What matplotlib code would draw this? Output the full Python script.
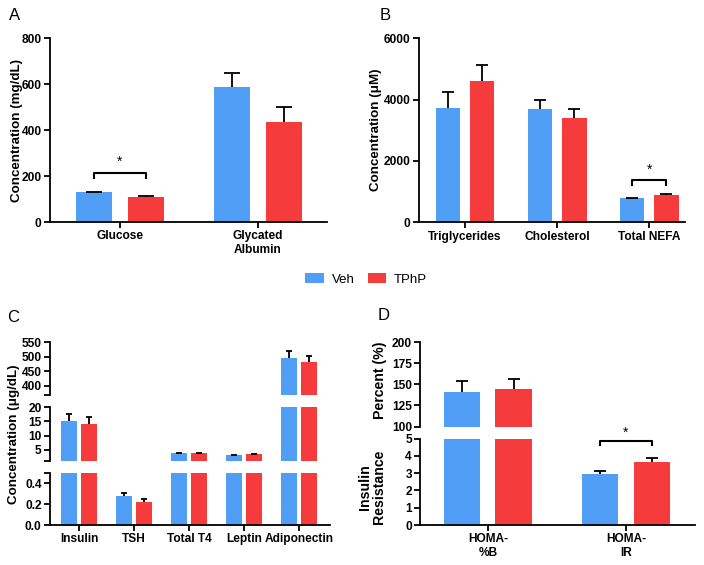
import matplotlib
matplotlib.use("Agg")
import matplotlib.pyplot as plt
from matplotlib.patches import Patch
import numpy as np

plt.rcParams["font.family"] = ["Liberation Sans", "DejaVu Sans"]
plt.rcParams["font.weight"] = "bold"

BLUE = "#519ef7"
RED = "#f63b3c"

# panel A
a_labels = ["Glucose", "Glycated\nAlbumin"]
a_veh = [129, 588]
a_veh_err = [3, 61]
a_tphp = [110, 437]
a_tphp_err = [3, 63]

# panel B
b_labels = ["Triglycerides", "Cholesterol", "Total NEFA"]
b_veh = [3740, 3705, 780]
b_veh_err = [500, 295, 15]
b_tphp = [4615, 3390, 890]
b_tphp_err = [500, 295, 20]

# panel C
c_labels = ["Insulin", "TSH", "Total T4", "Leptin", "Adiponectin"]
c_veh = [15.2, 0.275, 3.8, 3.1, 497]
c_veh_err = [2.4, 0.03, 0.15, 0.15, 24]
c_tphp = [14.0, 0.222, 3.75, 3.45, 482]
c_tphp_err = [2.7, 0.03, 0.15, 0.15, 22]

# panel D
d_labels = ["HOMA-\n%B", "HOMA-\nIR"]
d_veh = [140.7, 2.95]
d_veh_err = [13.2, 0.19]
d_tphp = [144.2, 3.64]
d_tphp_err = [12.8, 0.21]

W, H = 704, 565
fig = plt.figure(figsize=(W / 100, H / 100), dpi=100)


def box(x0, y0, x1, y1):  # pixel box -> figure fraction
    return [x0 / W, 1 - y1 / H, (x1 - x0) / W, (y1 - y0) / H]


def style(ax, bottom=True):
    ax.spines["top"].set_visible(False)
    ax.spines["right"].set_visible(False)
    ax.spines["left"].set_linewidth(1.3)
    ax.spines["bottom"].set_linewidth(1.3)
    ax.tick_params(direction="out", length=4, width=1.3, labelsize=8.6, pad=2)
    if not bottom:
        ax.spines["bottom"].set_visible(False)
        ax.tick_params(axis="x", bottom=False, labelbottom=False)


def upper_err(ax, x, y, err, cap):
    _, caps, _ = ax.errorbar(x, y, yerr=[np.zeros(len(y)), err], fmt="none",
                             ecolor="black", elinewidth=1.3, capsize=cap,
                             capthick=1.3)
    caps[0].set_visible(False)  # no cap at the bar top


def bars(ax, veh, veh_err, tphp, tphp_err, width, off, cap):
    x = np.arange(len(veh))
    ax.bar(x - off, veh, width, color=BLUE)
    ax.bar(x + off, tphp, width, color=RED)
    upper_err(ax, x - off, veh, veh_err, cap)
    upper_err(ax, x + off, tphp, tphp_err, cap)
    return x


def bracket(ax, i, off, y, leg, star_gap):
    x1, x2 = i - off, i + off
    ax.plot([x1, x1, x2, x2], [y - leg, y, y, y - leg], color="black", lw=1.5,
            clip_on=False)
    ax.text(i, y + star_gap, "*", ha="center", va="bottom", fontsize=10,
            fontweight="normal")


def ylabel(x, y, s, size=9.6):
    fig.text(x / W, 1 - y / H, s, rotation=90, ha="center", va="center",
             fontsize=size, fontweight="bold", linespacing=1.05)


def letter(x, y, s):
    fig.text(x / W, 1 - y / H, s, ha="left", va="center", fontsize=12,
             fontweight="normal")


# ---- A ----
ax = fig.add_axes(box(50, 38.3, 327, 222))
style(ax)
x = bars(ax, a_veh, a_veh_err, a_tphp, a_tphp_err, 0.26, 0.188, 6)
ax.set_xlim(-0.507, 1.5)
ax.set_ylim(0, 800)
ax.set_yticks([0, 200, 400, 600, 800])
ax.set_xticks(x)
ax.set_xticklabels(a_labels, linespacing=1.15)
top = max(a_veh[0] + a_veh_err[0], a_tphp[0] + a_tphp_err[0])
bracket(ax, 0, 0.188, top + 80, 20, 18)
ylabel(17, 130, "Concentration (mg/dL)")
letter(9, 16, "A")

# ---- B ----
ax = fig.add_axes(box(418.7, 38.3, 685, 222.3))
style(ax)
x = bars(ax, b_veh, b_veh_err, b_tphp, b_tphp_err, 0.27, 0.185, 4)
ax.set_xlim(-0.503, 2.39)
ax.set_ylim(0, 6000)
ax.set_yticks([0, 2000, 4000, 6000])
ax.set_xticks(x)
ax.set_xticklabels(b_labels)
top = max(b_veh[2] + b_veh_err[2], b_tphp[2] + b_tphp_err[2])
bracket(ax, 2, 0.185, top + 470, 160, 110)
ylabel(376, 130, "Concentration (\u03bcM)")
letter(380, 16, "B")

# ---- C (broken axis) ----
c_segments = [
    ((342.3, 395), (368, 550), [368, 400, 450, 500, 550], ["", "400", "450", "500", "550"]),
    ((407.3, 461), (1, 20), [1, 5, 10, 15, 20], ["", "5", "10", "15", "20"]),
    ((472.7, 525), (0, 0.5), [0, 0.2, 0.4, 0.5], ["0.0", "0.2", "0.4", ""]),
]
for k, ((y0, y1), lim, ticks, labels) in enumerate(c_segments):
    ax = fig.add_axes(box(50, y0, 330, y1))
    last = k == len(c_segments) - 1
    style(ax, bottom=last)
    x = bars(ax, c_veh, c_veh_err, c_tphp, c_tphp_err, 0.29, 0.187, 2.2)
    ax.set_xlim(-0.527, 4.564)
    ax.set_ylim(*lim)
    ax.set_yticks(ticks)
    ax.set_yticklabels(labels)
    if last:
        ax.set_xticks(x)
        ax.set_xticklabels(c_labels)
ylabel(14, 434, "Concentration (\u03bcg/dL)")
letter(7, 318, "C")

# ---- D (broken axis) ----
ax = fig.add_axes(box(420.3, 342.3, 695, 426.5))
style(ax, bottom=False)
bars(ax, d_veh, d_veh_err, d_tphp, d_tphp_err, 0.265, 0.187, 4.3)
ax.set_xlim(-0.49, 1.5)
ax.set_ylim(100, 200)
ax.set_yticks([100, 125, 150, 175, 200])

ax = fig.add_axes(box(420.3, 438.5, 695, 525))
style(ax)
x = bars(ax, d_veh, d_veh_err, d_tphp, d_tphp_err, 0.265, 0.187, 4.3)
ax.set_xlim(-0.49, 1.5)
ax.set_ylim(0, 5)
ax.set_yticks([0, 1, 2, 3, 4, 5])
ax.set_xticks(x)
ax.set_xticklabels(d_labels, linespacing=1.15)
top = max(d_veh[1] + d_veh_err[1], d_tphp[1] + d_tphp_err[1])
bracket(ax, 1, 0.187, top + 0.98, 0.22, 0.12)
ylabel(380, 380, "Percent (%)", 10.2)
ylabel(372, 487, "Insulin\nResistance", 10.2)
letter(378, 316, "D")

# legend
fig.legend(handles=[Patch(facecolor=BLUE), Patch(facecolor=RED)],
           labels=["Veh", "TPhP"], loc="center", bbox_to_anchor=(0.52, 1 - 279.5 / H),
           ncol=2, frameon=False, prop={"size": 9.5, "weight": "normal"},
           handlelength=1.4, handleheight=0.75, handletextpad=0.6, columnspacing=1.0)

fig.savefig("out.png", dpi=100)
